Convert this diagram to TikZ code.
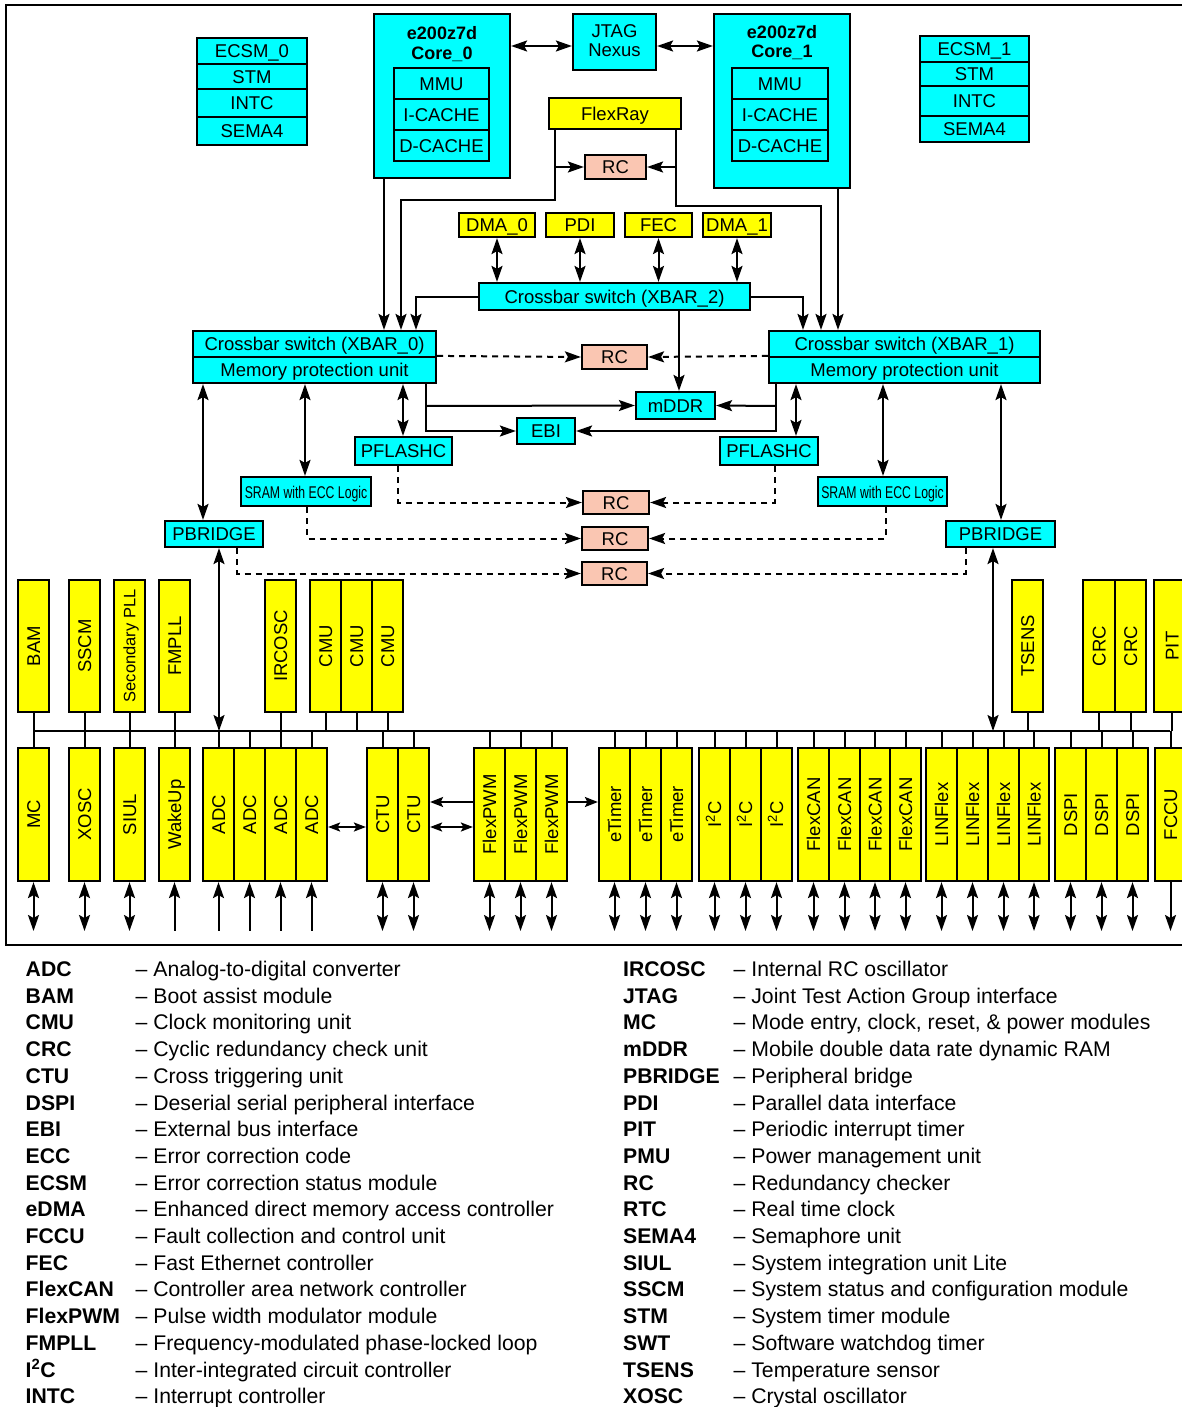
\documentclass[tikz,border=0pt]{standalone}
\usepackage{fontspec}
\setmainfont{Liberation Sans}
\usepackage{graphicx}
\usetikzlibrary{fit,arrows.meta}
\definecolor{rcfill}{RGB}{250,198,178}
\definecolor{cyfill}{RGB}{0,255,255}
\definecolor{ylfill}{RGB}{255,255,0}
\newcommand\fsz{\fontsize{18.5}{21}\selectfont}
\newcommand\fszb{\fontsize{18}{20}\selectfont\bfseries}
\newcommand\fleg{\fontsize{21.2}{24}\selectfont}
\newcommand\mkbox[7]{\node[#1,fit={(#3,#4)(#5,#6)}] (#2) {};\node[lbl] (#2-t) at (#2.center) {#7};}
\newcommand\mkvbox[7]{\node[#1,fit={(#3,#4)(#5,#6)}] (#2) {};\node[lbl,rotate=90] (#2-t) at (#2.center) {#7};}
\begin{document}
\begin{tikzpicture}[x=1pt,y=-1pt,
  >={Stealth[length=16pt,width=11pt,inset=3pt]},
  bx/.style={draw,line width=2.2pt,inner sep=0pt},
  cy/.style={bx,fill=cyfill},
  yl/.style={bx,fill=ylfill},
  rcb/.style={bx,fill=rcfill},
  lbl/.style={font=\fsz,inner sep=0pt,text height=13.2pt,text depth=0pt},
  ttl/.style={font=\fszb,inner sep=0pt,text height=13pt,text depth=0pt},
  ln/.style={line width=2pt},
  arr/.style={ln,->},
  uarr/.style={ln,<-},
  darr/.style={ln,<->},
  sdarr/.style={ln,{Stealth[length=12pt,width=9pt,inset=2.5pt]}-{Stealth[length=12pt,width=9pt,inset=2.5pt]}},
  sarr/.style={ln,-{Stealth[length=13pt,width=10pt,inset=2.5pt]}},
  dsh/.style={ln,dash pattern=on 6pt off 5pt,->},
  legk/.style={font=\fleg\bfseries,inner sep=0pt,text height=15pt,text depth=0pt,anchor=west},
  legd/.style={font=\fleg,inner sep=0pt,text height=15pt,text depth=0pt,anchor=west}]
\useasboundingbox (0,0) rectangle (1182,1407);
\clip (0,0) rectangle (1182,1407);
\fill[white] (0,0) rectangle (1182,1407);
% frame
\draw[ln] (1200,5) -- (6,5) -- (6,945) -- (1200,945);

% ECSM stacks
\mkbox{cy}{ecsma}{197}{38}{307}{64}{ECSM\_0}
\mkbox{cy}{stma}{197}{64}{307}{89}{STM}
\mkbox{cy}{intca}{197}{89}{307}{117}{INTC}
\mkbox{cy}{semaa}{197}{117}{307}{145}{SEMA4}
\mkbox{cy}{ecsmb}{920}{36}{1029}{62}{ECSM\_1}
\mkbox{cy}{stmb}{920}{62}{1029}{86}{STM}
\mkbox{cy}{intcb}{920}{86}{1029}{116}{INTC}
\mkbox{cy}{semab}{920}{116}{1029}{142}{SEMA4}

% cores
\node[cy,fit={(374,14)(510,178)}] (core0) {};
\node[ttl] (core0-a) at (442,33) {e200z7d};
\node[ttl] (core0-b) at (442,53) {Core\_0};
\mkbox{cy}{mmua}{394}{68}{489}{99}{MMU}
\mkbox{cy}{icha}{394}{99}{489}{130}{I-CACHE}
\mkbox{cy}{dcha}{394}{130}{489}{161}{D-CACHE}
\node[cy,fit={(714,14)(850,188)}] (core1) {};
\node[ttl] (core1-a) at (782,32) {e200z7d};
\node[ttl] (core1-b) at (782,51) {Core\_1};
\mkbox{cy}{mmub}{732}{68}{828}{99}{MMU}
\mkbox{cy}{ichb}{732}{99}{828}{130}{I-CACHE}
\mkbox{cy}{dchb}{732}{130}{828}{161}{D-CACHE}
\node[cy,fit={(573,14)(656,70)}] (jtag) {};
\node[lbl] (jtag-a) at (614.5,31) {JTAG};
\node[lbl] (jtag-b) at (614.5,50) {Nexus};

% upper middle
\mkbox{yl}{fr}{549}{98}{681}{129}{FlexRay}
\mkbox{rcb}{rct}{585}{155}{646}{179}{RC}
\mkbox{yl}{dma0}{459}{213}{535}{237}{DMA\_0}
\mkbox{yl}{pdi}{546}{213}{614}{237}{PDI}
\mkbox{yl}{fec}{625}{213}{692}{237}{FEC}
\mkbox{yl}{dma1}{703}{213}{771}{237}{DMA\_1}
\mkbox{cy}{xb2}{479}{283}{750}{310}{Crossbar switch (XBAR\_2)}
\mkbox{cy}{xa0}{193}{331}{436}{357}{Crossbar switch (XBAR\_0)}
\mkbox{cy}{xb0}{193}{357}{436}{383}{Memory protection unit}
\mkbox{cy}{xa1}{769}{331}{1040}{357}{Crossbar switch (XBAR\_1)}
\mkbox{cy}{xb1}{769}{357}{1040}{383}{Memory protection unit}
\mkbox{rcb}{rcm}{582}{345}{647}{369}{RC}
\mkbox{cy}{mddr}{636}{392}{715}{419}{mDDR}
\mkbox{cy}{ebi}{517}{418}{575}{444}{EBI}
\mkbox{cy}{pfl}{355}{437}{452}{465}{PFLASHC}
\mkbox{cy}{pfr}{720}{437}{818}{465}{PFLASHC}
\node[cy,fit={(241,477)(371,506)}] (sraml) {};
\node[lbl] (sraml-t) at (sraml.center) {\scalebox{0.72}[1]{\fontsize{17}{19}\selectfont SRAM with ECC Logic}};
\node[cy,fit={(818,477)(947,506)}] (sramr) {};
\node[lbl] (sramr-t) at (sramr.center) {\scalebox{0.72}[1]{\fontsize{17}{19}\selectfont SRAM with ECC Logic}};
\mkbox{cy}{pbl}{165}{521}{263}{547}{PBRIDGE}
\mkbox{cy}{pbr}{946}{521}{1055}{547}{PBRIDGE}
\mkbox{rcb}{rc2}{583}{491}{649}{514}{RC}
\mkbox{rcb}{rc3}{582}{527}{648}{550}{RC}
\mkbox{rcb}{rc4}{582}{562}{647}{585}{RC}

% upper connectors
\draw[darr] (core0.east |- 0,46) -- (jtag.west |- 0,46);
\draw[darr] (jtag.east |- 0,46) -- (core1.west |- 0,46);
\draw[arr] (core0.south -| 384,0) -- (xa0.north -| 384,0);
\draw[arr] (fr.south -| 555,0) |- (401,200) -- (xa0.north -| 401,0);
\draw[arr] (555,167) -- (rct.west);
\draw[arr] (fr.south -| 676,0) |- (821,206) -- (xa1.north -| 821,0);
\draw[arr] (676,167) -- (rct.east);
\draw[arr] (core1.south -| 838,0) -- (xa1.north -| 838,0);
\foreach \n in {dma0,pdi,fec,dma1} {\draw[darr] (\n.south) -- (\n.south |- xb2.north);}
\draw[arr] (xb2.west) -| (xa0.north -| 416,0);
\draw[arr] (xb2.east) -| (xa1.north -| 803,0);
\draw[arr] (xb2.south -| 679,0) -- (mddr.north -| 679,0);
\draw[dsh] (xb0.north east) -- (rcm.west);
\draw[dsh] (xb1.north west) -- (rcm.east);
\draw[arr] (xb0.south -| 426,0) |- (ebi.west);
\draw[arr] (426,406) -- (mddr.west);
\draw[arr] (xb1.south -| 776,0) |- (ebi.east);
\draw[arr] (776,406) -- (mddr.east);
\draw[darr] (xb0.south -| 203,0) -- (pbl.north -| 203,0);
\draw[darr] (xb0.south -| 305,0) -- (sraml.north -| 305,0);
\draw[darr] (xb0.south -| 403,0) -- (pfl.north -| 403,0);
\draw[darr] (xb1.south -| 796,0) -- (pfr.north -| 796,0);
\draw[darr] (xb1.south -| 883,0) -- (sramr.north -| 883,0);
\draw[darr] (xb1.south -| 1001,0) -- (pbr.north -| 1001,0);
\draw[dsh] (pfl.south -| 398,0) |- (rc2.west);
\draw[dsh] (pfr.south -| 775,0) |- (rc2.east);
\draw[dsh] (sraml.south -| 307,0) |- (rc3.west);
\draw[dsh] (sramr.south -| 886,0) |- (rc3.east);
\draw[dsh] (pbl.south -| 237,0) |- (rc4.west);
\draw[dsh] (pbr.south -| 966,0) |- (rc4.east);

% bus
\coordinate (bus) at (34,731);
\coordinate (busr) at (1170,731);
\draw[ln] (bus) -- (busr);
\draw[darr] (pbl.south -| 219,0) -- (219,731);
\draw[darr] (pbr.south -| 993,0) -- (993,731);

% top row peripherals
\foreach \n/\a/\b/\t in {bam/18/49/BAM, sscm/69/100/SSCM, fmpll/159/190/FMPLL, ircosc/265/296/IRCOSC, cmua/310/341/CMU, cmub/341/372/CMU, cmuc/372/403/CMU, tsens/1012/1043/TSENS, crca/1083/1115/CRC, crcb/1115/1146/CRC, pit/1154/1190/PIT}
 {\mkvbox{yl}{\n}{\a}{580}{\b}{712}{\t}
  \draw[ln] (\n.south) -- (\n.south |- bus);}
\node[yl,fit={(114,580)(145,712)}] (spll) {};
\node[lbl,rotate=90,font=\fontsize{16.5}{18}\selectfont,text height=11.8pt] (spll-t) at (spll.center) {Secondary PLL};
\draw[ln] (spll.south) -- (spll.south |- bus);

% bottom row peripherals
\foreach \n/\a/\b/\t/\s in {mc/18/49/MC/darr, xosc/69/100/XOSC/darr, siul/114/145/SIUL/darr, wku/159/190/WakeUp/uarr,
  adca/203/234/ADC/uarr, adcb/234/265/ADC/uarr, adcc/265/296/ADC/uarr, adcd/296/327/ADC/uarr,
  ctua/367/398/CTU/darr, ctub/398/429/CTU/darr,
  pwma/474/505/FlexPWM/darr, pwmb/505/536/FlexPWM/darr, pwmc/536/567/FlexPWM/darr,
  eta/599/630/eTimer/darr, etb/630/661/eTimer/darr, etc/661/692/eTimer/darr,
  i2ca/699/730/{I\textsuperscript{2}C}/darr, i2cb/730/761/{I\textsuperscript{2}C}/darr, i2cc/761/792/{I\textsuperscript{2}C}/darr,
  fca/798/829/FlexCAN/darr, fcb/829/860/FlexCAN/darr, fcc/860/890/FlexCAN/darr, fcd/890/921/FlexCAN/darr,
  lina/926/957/LINFlex/darr, linb/957/988/LINFlex/darr, linc/988/1019/LINFlex/darr, lind/1019/1049/LINFlex/darr,
  dspia/1055/1086/DSPI/darr, dspib/1086/1117/DSPI/darr, dspic/1117/1148/DSPI/darr,
  fccu/1155/1186/FCCU/arr}
 {\mkvbox{yl}{\n}{\a}{748}{\b}{881}{\t}
  \draw[ln] (\n.north) -- (\n.north |- bus);
  \draw[\s] (\n.south) -- (\n.south |- 0,931);}

\draw[sdarr] (adcd.east |- 0,827) -- (ctua.west |- 0,827);
\draw[sdarr] (ctub.east |- 0,827) -- (pwma.west |- 0,827);
\draw[sarr] (pwma.west |- 0,802) -- (ctub.east |- 0,802);
\draw[sarr] (pwmc.east |- 0,802) -- (eta.west |- 0,802);

% legend
\foreach \ab/\ds [count=\i from 0] in {ADC/Analog-to-digital converter, BAM/Boot assist module, CMU/Clock monitoring unit,
  CRC/Cyclic redundancy check unit, CTU/Cross triggering unit, DSPI/Deserial serial peripheral interface,
  EBI/External bus interface, ECC/Error correction code, ECSM/Error correction status module,
  eDMA/Enhanced direct memory access controller, FCCU/Fault collection and control unit,
  FEC/Fast Ethernet controller, FlexCAN/Controller area network controller, FlexPWM/Pulse width modulator module,
  FMPLL/Frequency-modulated phase-locked loop, {I\textsuperscript{2}C}/Inter-integrated circuit controller,
  INTC/Interrupt controller}
 {\node[legk] (lk\i) at (25.5,{969+26.7*\i}) {\ab};
  \node[legd] (ld\i) at (135.5,{969+26.7*\i}) {-- \ds};}
\foreach \ab/\ds [count=\i from 0] in {IRCOSC/Internal RC oscillator, JTAG/Joint Test Action Group interface,
  MC/{Mode entry, clock, reset, \& power modules}, mDDR/Mobile double data rate dynamic RAM,
  PBRIDGE/Peripheral bridge, PDI/Parallel data interface, PIT/Periodic interrupt timer,
  PMU/Power management unit, RC/Redundancy checker, RTC/Real time clock, SEMA4/Semaphore unit,
  SIUL/System integration unit Lite, SSCM/System status and configuration module, STM/System timer module,
  SWT/Software watchdog timer, TSENS/Temperature sensor, XOSC/Crystal oscillator}
 {\node[legk] (rk\i) at (623,{969+26.7*\i}) {\ab};
  \node[legd] (rd\i) at (733.5,{969+26.7*\i}) {-- \ds};}
\end{tikzpicture}
\end{document}
